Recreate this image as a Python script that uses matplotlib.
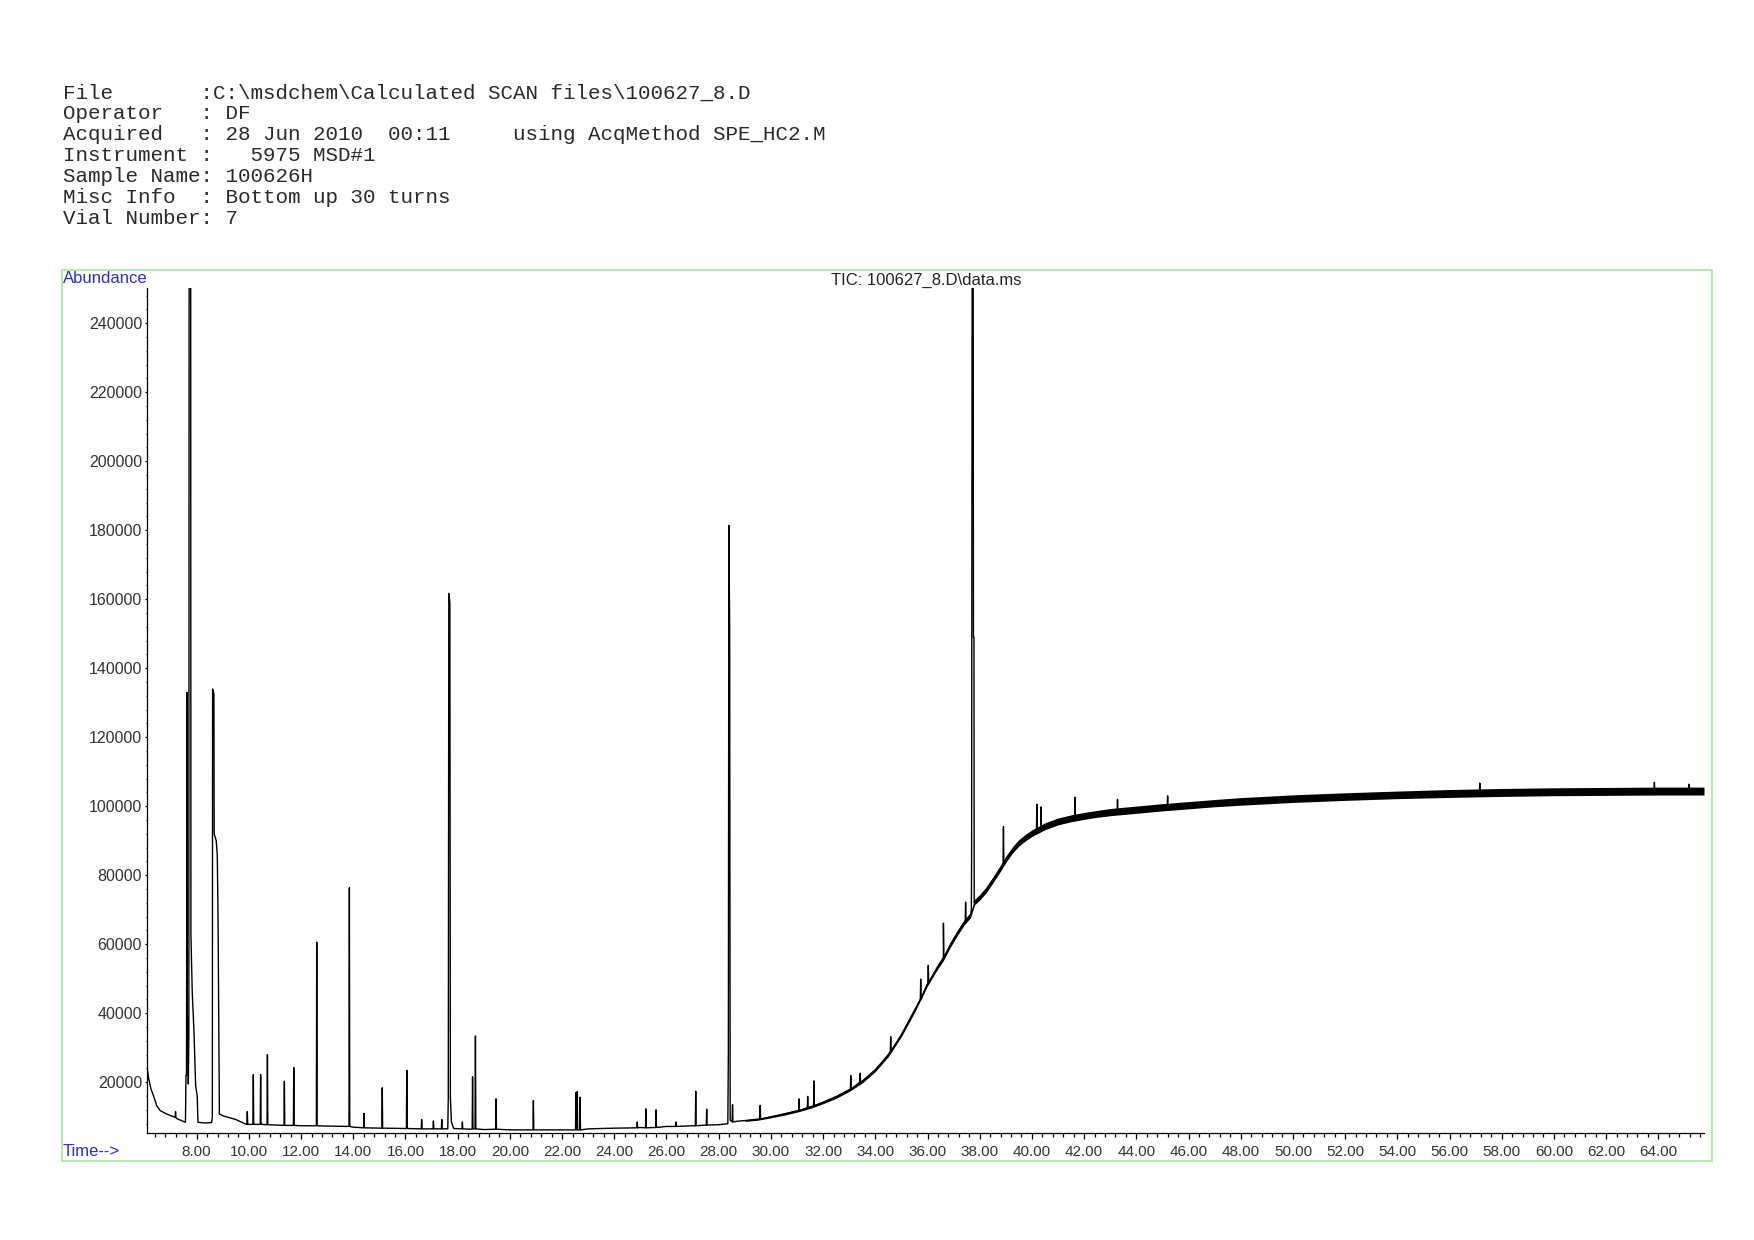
import numpy as np
import matplotlib
matplotlib.use("Agg")
import matplotlib.pyplot as plt
from matplotlib.patches import Rectangle
from matplotlib.ticker import MultipleLocator, FormatStrFormatter

# header block of the printout
header_lines = [
    "File       :C:\\msdchem\\Calculated SCAN files\\100627_8.D",
    "Operator   : DF",
    "Acquired   : 28 Jun 2010  00:11     using AcqMethod SPE_HC2.M",
    "Instrument :   5975 MSD#1",
    "Sample Name: 100626H",
    "Misc Info  : Bottom up 30 turns",
    "Vial Number: 7",
]
tic_title = "TIC: 100627_8.D\\data.ms"

# early part of the TIC trace (min, abundance), incl. the broad/clipped peaks
early_t = [6.09, 6.15, 6.25, 6.35, 6.47, 6.60, 6.85, 7.23, 7.57,
           7.59, 7.61, 7.63, 7.64, 7.66, 7.68, 7.70, 7.71, 7.77, 7.78,
           7.83, 7.90, 7.96, 8.02, 8.05, 8.30, 8.57,
           8.60, 8.61, 8.66, 8.67, 8.75, 8.79, 8.82, 8.85, 8.87,
           9.0, 9.5, 9.9, 10.5, 11.0, 12.0, 13.0, 14.0, 15.0, 16.0, 17.0, 17.62,
           17.64, 17.66, 17.70, 17.72, 17.76, 17.85,
           18.5, 19.0, 20.0, 21.0, 22.0, 23.0, 24.0, 25.0, 26.0, 27.0, 28.0, 28.35,
           28.37, 28.39, 28.42, 28.44, 28.7]
early_v = [25000, 21500, 18000, 16000, 13200, 11800, 10800, 9500, 8400,
           22000, 22000, 133000, 40000, 34500, 19500, 34500, 260000, 260000, 62500,
           46000, 34000, 19000, 16000, 8400, 8200, 8300,
           10000, 134000, 132500, 92000, 90000, 85600, 66500, 30000, 10800,
           10300, 9200, 7800, 7800, 7600, 7400, 7300, 7000, 6700, 6600, 6500, 6500,
           15500, 161700, 158900, 15500, 8500, 6600,
           6400, 6300, 6200, 6200, 6200, 6500, 6700, 6900, 7200, 7400, 7700, 8000,
           28300, 181400, 151700, 9000, 8700]

# late part: drifting baseline with noise half-width (abundance)
late_t = [29.0, 29.5, 30.0, 30.5, 31.0, 31.5, 32.0, 32.5, 33.0, 33.5, 34.0,
          34.5, 35.0, 35.5, 36.0, 36.35, 36.61, 36.87, 37.12, 37.4, 37.65,
          37.80, 38.0, 38.25, 38.5, 38.75, 39.0, 39.25, 39.5, 39.75, 40.0,
          40.5, 41.0, 41.5, 42.0, 42.5, 43.0, 44.0, 45.0, 46.0, 47.0, 48.0,
          49.0, 50.0, 52.0, 54.0, 56.0, 58.0, 60.0, 62.0, 64.0, 65.75]
late_v = [8900, 9300, 10000, 10800, 11700, 12800, 14200, 15800, 17800, 20300, 23600,
          28000, 33800, 40800, 48600, 53000, 56000, 59800, 63000, 66300, 68500,
          72200, 73600, 75800, 78600, 81500, 84600, 87300, 89400, 90900, 92200,
          94200, 95600, 96500, 97200, 97800, 98300, 99000, 99700, 100300, 100900, 101400,
          101800, 102200, 102800, 103300, 103700, 104000, 104200, 104300, 104400, 104400]
late_noise = [250, 300, 300, 350, 350, 400, 400, 450, 450, 500, 500,
              550, 550, 600, 650, 650, 700, 700, 750, 750, 800,
              800, 800, 850, 850, 900, 900, 900, 950, 950, 950,
              1000, 1000, 1000, 1000, 1000, 1050, 1050, 1050, 1050, 1050, 1100,
              1100, 1100, 1100, 1100, 1150, 1150, 1150, 1150, 1150, 1150]

# main peak of the late region (clipped at the top)
late_peak_t = [37.68, 37.69, 37.71, 37.75, 37.76, 37.78, 37.79]
late_peak_v = [70000, 84400, 260000, 260000, 149000, 149000, 72000]

# narrow peaks: apex time, apex abundance, foot abundance
spike_t = [7.19, 9.94, 10.17, 10.45, 10.71, 11.36, 11.72, 12.60, 13.85, 14.41,
           15.11, 16.05, 16.62, 17.07, 17.39, 18.18, 18.57, 18.68, 19.47, 20.90,
           22.53, 22.58, 22.69, 24.88, 25.21, 25.60, 26.36, 27.12, 27.54, 28.53,
           29.59, 31.08, 31.41, 31.65, 33.06, 33.42, 34.59, 35.74, 36.03, 36.61,
           37.46, 38.91, 40.19, 40.35, 41.65, 43.28, 45.20, 57.16, 63.85, 65.17]
spike_top = [11500, 11500, 22200, 22200, 28000, 20300, 24300, 60600, 76400, 11000,
             18400, 23500, 9200, 8800, 9200, 8500, 21600, 33400, 15200, 14700,
             17000, 17300, 15700, 8500, 12300, 12000, 8500, 17400, 12200, 13500,
             13300, 15200, 15900, 20400, 21900, 22600, 33200, 49900, 53900, 66100,
             72200, 94100, 100600, 99800, 102600, 102000, 103000, 106700, 106950, 106400]
spike_foot = [9800, 7800, 7800, 7800, 7700, 7500, 7500, 7400, 7200, 6800,
              6700, 6600, 6500, 6500, 6500, 6500, 6500, 6500, 6400, 6200,
              6200, 6200, 6200, 6800, 6800, 6900, 7200, 7400, 7600, 8500,
              9300, 11700, 12600, 13100, 17800, 20100, 29000, 44000, 48600, 56000,
              66800, 83000, 93000, 93800, 96400, 98500, 99900, 103800, 104400, 104400]

W, H = 1754, 1240


def fx(px):
    return px / W


def fy(py):
    return 1 - py / H


def build_trace():
    pts = list(zip(early_t, early_v)) + list(zip(late_t, late_v))
    pts += list(zip(late_peak_t, late_peak_v))
    for t, top, foot in zip(spike_t, spike_top, spike_foot):
        pts += [(t - 0.015, foot), (t, top), (t + 0.015, foot)]
    pts.sort()
    tt = np.array([p[0] for p in pts])
    vv = np.array([p[1] for p in pts])
    return tt, vv


fig = plt.figure(figsize=(W / 100, H / 100), dpi=100)
fig.patch.set_facecolor("white")

# header
for i, line in enumerate(header_lines):
    fig.text(fx(62.6), fy(92.8 + 20.9 * i), line, family="Liberation Mono",
             fontsize=15, color="#2a2a2a", ha="left", va="center")

# green frame
fig.add_artist(Rectangle((fx(62), fy(1161)), fx(1712) - fx(62), fy(269.5) - fy(1161),
                         transform=fig.transFigure, fill=False,
                         edgecolor="#a3e6a3", linewidth=1.2))

ax = fig.add_axes([fx(146.7), fy(1133), fx(1704) - fx(146.7), fy(288) - fy(1133)])
tt, vv = build_trace()
lv = np.array(late_v)
ln = np.array(late_noise)
ax.fill_between(late_t, lv - ln, lv + ln, color="black", linewidth=0)
ax.plot(tt, vv, color="black", linewidth=1.0)

ax.set_xlim(6.085, 65.75)
ax.set_ylim(5300, 250200)

for s in ["top", "right"]:
    ax.spines[s].set_visible(False)
for s in ["left", "bottom"]:
    ax.spines[s].set_linewidth(0.9)
    ax.spines[s].set_color("black")

ax.xaxis.set_major_locator(MultipleLocator(2))
ax.xaxis.set_minor_locator(MultipleLocator(0.4))
ax.xaxis.set_major_formatter(FormatStrFormatter("%.2f"))
ax.yaxis.set_major_locator(MultipleLocator(20000))
ax.yaxis.set_minor_locator(MultipleLocator(4000))
ax.yaxis.set_major_formatter(FormatStrFormatter("%d"))

ax.tick_params(axis="x", which="major", direction="out", length=4.3, width=0.9,
               pad=4, labelsize=11, labelcolor="#333333")
ax.tick_params(axis="x", which="minor", direction="out", length=2.8, width=0.9)
ax.tick_params(axis="y", which="major", direction="out", length=1.8, width=0.9,
               pad=1.5, labelsize=11.5, labelcolor="#333333")
ax.tick_params(axis="y", which="minor", direction="out", length=1.0, width=0.9)
for lab in ax.get_xticklabels() + ax.get_yticklabels():
    lab.set_family("Liberation Sans")

fig.text(fx(926), fy(280), tic_title, family="Liberation Sans", fontsize=12,
         color="#222222", ha="center", va="center")
fig.text(fx(63), fy(278.3), "Abundance", family="Liberation Sans", fontsize=12,
         color="#2b2bd9", ha="left", va="center")
fig.text(fx(63), fy(1151), "Time-->", family="Liberation Sans", fontsize=12,
         color="#2b2bd9", ha="left", va="center")

fig.savefig("out.png", dpi=100)
